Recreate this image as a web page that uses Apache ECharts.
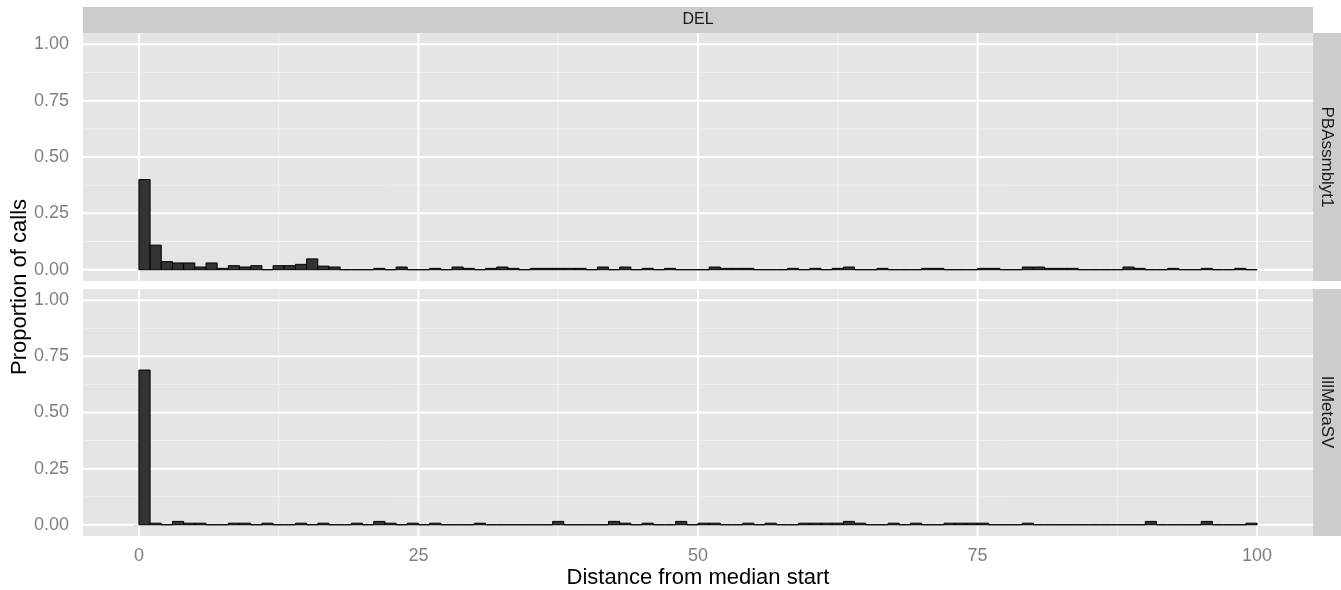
<!DOCTYPE html>
<html>
<head>
<meta charset="utf-8">
<script src="https://cdn.jsdelivr.net/npm/echarts@6/dist/echarts.min.js"></script>
<style>
html,body{margin:0;padding:0;background:#fff;}
#chart{width:1341px;height:590px;}
</style>
</head>
<body>
<div id="chart"></div>
<script>
// Histogram bins: width 1, starting at 0 .. 99 (Distance from median start)
const BIN_WIDTH = 1;
const facetColumn = 'DEL';
const facetRows = ['PBAssmblyt1', 'IllMetaSV'];

// Proportion of calls per bin, PBAssmblyt1
const pbAssmblyt1Values = [
  0.400, 0.109, 0.036, 0.030, 0.030, 0.012, 0.030, 0.006, 0.018, 0.012,
  0.018, 0,     0.018, 0.018, 0.024, 0.048, 0.016, 0.012, 0,     0,
  0,     0.006, 0,     0.012, 0,     0,     0.006, 0,     0.012, 0.006,
  0,     0.006, 0.012, 0.006, 0,     0.006, 0.006, 0.006, 0.006, 0.006,
  0,     0.012, 0,     0.012, 0,     0.006, 0,     0.006, 0,     0,
  0,     0.012, 0.006, 0.006, 0.006, 0,     0,     0,     0.006, 0,
  0.006, 0,     0.006, 0.012, 0,     0,     0.006, 0,     0,     0,
  0.006, 0.006, 0,     0,     0,     0.006, 0.006, 0,     0,     0.012,
  0.012, 0.006, 0.006, 0.006, 0,     0,     0,     0,     0.012, 0.006,
  0,     0,     0.006, 0,     0,     0.006, 0,     0,     0.006, 0
];

// Proportion of calls per bin, IllMetaSV
const illMetaSVValues = [
  0.689, 0.007, 0,     0.015, 0.007, 0.007, 0,     0,     0.007, 0.007,
  0,     0.007, 0,     0,     0.007, 0,     0.007, 0,     0,     0.007,
  0,     0.015, 0.007, 0,     0.007, 0,     0.007, 0,     0,     0,
  0.007, 0,     0,     0,     0,     0,     0,     0.015, 0,     0,
  0,     0,     0.015, 0.007, 0,     0.007, 0,     0,     0.015, 0,
  0.007, 0.007, 0,     0,     0.007, 0,     0.007, 0,     0,     0.007,
  0.007, 0.007, 0.007, 0.015, 0.007, 0,     0,     0.007, 0,     0.007,
  0,     0,     0.007, 0.007, 0.007, 0.007, 0,     0,     0,     0.007,
  0,     0,     0,     0,     0,     0,     0,     0,     0,     0,
  0.015, 0,     0,     0,     0,     0.015, 0,     0,     0,     0.007
];

const xTicks = [0, 25, 50, 75, 100];
const xMinor = [12.5, 37.5, 62.5, 87.5];
const yTicks = [0, 0.25, 0.5, 0.75, 1];
const yMinor = [0.125, 0.375, 0.625, 0.875];
const X_MIN = -5, X_MAX = 105, Y_MIN = -0.05, Y_MAX = 1.05;

const FONT = '"Liberation Sans", Arial, Helvetica, sans-serif';

function toBins(values) {
  return values.map((v, i) => [i * BIN_WIDTH, v]);
}

function barRender(params, api) {
  const x0 = api.value(0), v = api.value(1);
  const p0 = api.coord([x0, 0]);
  const p1 = api.coord([x0 + BIN_WIDTH, v]);
  return {
    type: 'rect',
    shape: { x: p0[0], y: p1[1], width: p1[0] - p0[0], height: p0[1] - p1[1] },
    style: { fill: '#333333', stroke: '#000000', lineWidth: 1 }
  };
}

function vLineRender(color, width) {
  return function (params, api) {
    const v = api.value(0);
    const a = api.coord([v, Y_MIN]);
    const b = api.coord([v, Y_MAX]);
    return { type: 'line', shape: { x1: a[0], y1: a[1], x2: b[0], y2: b[1] },
      style: { stroke: color, lineWidth: width } };
  };
}
function hLineRender(color, width) {
  return function (params, api) {
    const v = api.value(0);
    const a = api.coord([X_MIN, v]);
    const b = api.coord([X_MAX, v]);
    return { type: 'line', shape: { x1: a[0], y1: a[1], x2: b[0], y2: b[1] },
      style: { stroke: color, lineWidth: width } };
  };
}

const grids = [
  { left: 83, top: 33, width: 1230, height: 248 },
  { left: 83, top: 289, width: 1230, height: 247 }
];

function gridSeries(idx) {
  const base = { type: 'custom', xAxisIndex: idx, yAxisIndex: idx, silent: true, z: 1, animation: false };
  return [
    Object.assign({}, base, { data: xMinor.map(v => [v]), renderItem: vLineRender('#f2f2f2', 1) }),
    Object.assign({}, base, { data: yMinor.map(v => [v]), renderItem: hLineRender('#f2f2f2', 1) }),
    Object.assign({}, base, { data: xTicks.map(v => [v]), renderItem: vLineRender('#ffffff', 2), z: 2 }),
    Object.assign({}, base, { data: yTicks.map(v => [v]), renderItem: hLineRender('#ffffff', 2), z: 2 })
  ];
}

const yAxisCommon = {
  type: 'value', min: Y_MIN, max: Y_MAX,
  axisLine: { show: false },
  splitLine: { show: false },
  axisTick: { show: true, customValues: yTicks, length: 5, lineStyle: { color: '#7f7f7f', width: 1 } },
  axisLabel: { show: true, customValues: yTicks, margin: 14, color: '#7f7f7f', fontSize: 18, fontFamily: FONT,
    formatter: v => Number(v).toFixed(2) }
};

const option = {
  backgroundColor: '#ffffff',
  animation: false,
  grid: grids.map(g => Object.assign({ show: true, backgroundColor: '#e5e5e5', borderWidth: 0, containLabel: false }, g)),
  xAxis: [
    { type: 'value', gridIndex: 0, min: X_MIN, max: X_MAX,
      axisLine: { show: false }, axisTick: { show: false }, axisLabel: { show: false }, splitLine: { show: false } },
    { type: 'value', gridIndex: 1, min: X_MIN, max: X_MAX,
      axisLine: { show: false }, splitLine: { show: false },
      axisTick: { show: true, customValues: xTicks, length: 5, lineStyle: { color: '#7f7f7f', width: 1 } },
      axisLabel: { show: true, customValues: xTicks, margin: 11, color: '#7f7f7f', fontSize: 18, fontFamily: FONT } }
  ],
  yAxis: [
    Object.assign({ gridIndex: 0 }, yAxisCommon),
    Object.assign({ gridIndex: 1 }, yAxisCommon)
  ],
  series: [
    ...gridSeries(0),
    ...gridSeries(1),
    { type: 'custom', name: facetRows[0], xAxisIndex: 0, yAxisIndex: 0, z: 5, data: toBins(pbAssmblyt1Values), renderItem: barRender },
    { type: 'custom', name: facetRows[1], xAxisIndex: 1, yAxisIndex: 1, z: 5, data: toBins(illMetaSVValues), renderItem: barRender }
  ],
  graphic: [
    // top facet strip
    { type: 'rect', shape: { x: 83, y: 7, width: 1230, height: 26 }, style: { fill: '#cccccc' }, z: 10 },
    { type: 'text', x: 698, y: 20, style: { text: facetColumn, fill: '#1a1a1a', font: '16px ' + FONT, align: 'center', verticalAlign: 'middle' }, z: 11 },
    // right facet strips
    { type: 'rect', shape: { x: 1313, y: 33, width: 28, height: 248 }, style: { fill: '#cccccc' }, z: 10 },
    { type: 'text', x: 1327, y: 157, rotation: -Math.PI / 2, style: { text: facetRows[0], fill: '#1a1a1a', font: '17px ' + FONT, align: 'center', verticalAlign: 'middle' }, z: 11 },
    { type: 'rect', shape: { x: 1313, y: 289, width: 28, height: 247 }, style: { fill: '#cccccc' }, z: 10 },
    { type: 'text', x: 1327, y: 412, rotation: -Math.PI / 2, style: { text: facetRows[1], fill: '#1a1a1a', font: '17px ' + FONT, align: 'center', verticalAlign: 'middle' }, z: 11 },
    // axis titles
    { type: 'text', x: 698, y: 578, style: { text: 'Distance from median start', fill: '#000000', font: '22px ' + FONT, align: 'center', verticalAlign: 'middle' }, z: 11 },
    { type: 'text', x: 20, y: 287, rotation: Math.PI / 2, style: { text: 'Proportion of calls', fill: '#000000', font: '22px ' + FONT, align: 'center', verticalAlign: 'middle' }, z: 11 }
  ]
};

const chart = echarts.init(document.getElementById('chart'), null, { renderer: 'canvas' });
chart.setOption(option);
</script>
</body>
</html>
